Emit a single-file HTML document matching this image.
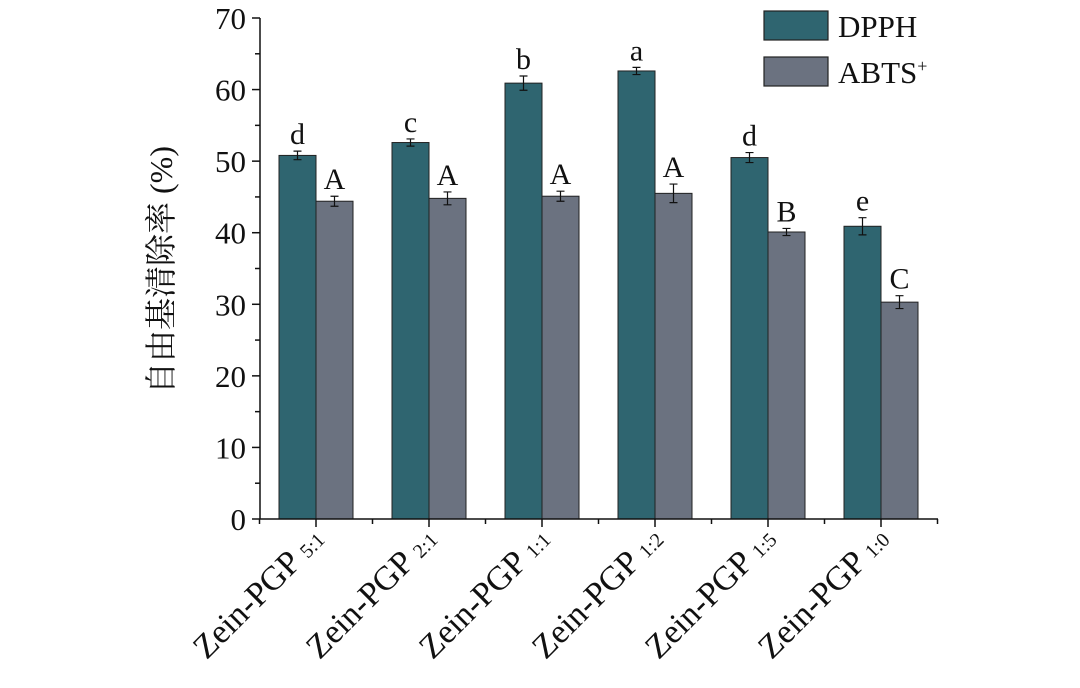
<!DOCTYPE html>
<html><head><meta charset="utf-8"><style>
body{margin:0;background:#fff}
svg text{font-family:"Liberation Serif","Noto Serif CJK SC",serif;fill:#111}
</style></head><body>
<svg id="chart" width="1080" height="683" viewBox="0 0 1080 683" xmlns="http://www.w3.org/2000/svg">
<g id="plot"></g>
</svg>
<script>
const categories=["5:1","2:1","1:1","1:2","1:5","1:0"];
const dpph=[50.8,52.6,60.9,62.6,50.5,40.9];
const dpphErr=[0.6,0.5,1.0,0.5,0.7,1.2];
const dpphLetters=["d","c","b","a","d","e"];
const abts=[44.4,44.8,45.1,45.5,40.1,30.3];
const abtsErr=[0.7,0.9,0.7,1.3,0.5,0.9];
const abtsLetters=["A","A","A","A","B","C"];
const yTicks=[0,10,20,30,40,50,60,70];

const NS="http://www.w3.org/2000/svg";
const g=document.getElementById('plot');
const x0=260,x1=938,y0=519,yTop=18,yMax=70;
const Y=v=>y0-(v/yMax)*(y0-yTop);
const pitch=113, first=316, bw=37;
const X=i=>first+i*pitch;
function el(t,a,p){const e=document.createElementNS(NS,t);for(const k in a)e.setAttribute(k,a[k]);(p||g).appendChild(e);return e;}
const col1="#2f6570",col2="#6b7280";
categories.forEach((c,i)=>{
  const cx=X(i);
  [[dpph,dpphErr,dpphLetters,cx-bw,col1,'dpph'],[abts,abtsErr,abtsLetters,cx,col2,'abts']].forEach(([vals,errs,lets,bx,color,nm])=>{
    const v=vals[i],e=errs[i];
    const r=el('rect',{x:bx,y:Y(v),width:bw,height:y0-Y(v),fill:color,stroke:"#222","stroke-width":1});
    
    
    const mx=bx+bw/2;
    const eb=el('path',{d:`M${mx},${Y(v+e)}V${Y(v-e)}M${mx-4},${Y(v+e)}H${mx+4}M${mx-4},${Y(v-e)}H${mx+4}`,stroke:"#111","stroke-width":1.2,fill:"none"});
    
    
    const t=el('text',{x:mx,y:Y(v+e)-7,"text-anchor":"middle","font-size":30});
    t.textContent=lets[i];
    
    
  });
  const tk=el('line',{x1:cx,x2:cx,y1:y0,y2:y0+8,stroke:"#111","stroke-width":1.5});
  
  
  const m=el('line',{x1:cx+pitch/2,x2:cx+pitch/2,y1:y0,y2:y0+5,stroke:"#111","stroke-width":1.5});
  
  
  const lt=el('text',{transform:`translate(${cx+10},${y0+22}) rotate(-45)`,"text-anchor":"end","font-size":34});
  lt.innerHTML='Zein-PGP <tspan font-size="20">'+c+'</tspan>';
  
  
});
const ml=el('line',{x1:X(0)-pitch/2,x2:X(0)-pitch/2,y1:y0,y2:y0+5,stroke:"#111","stroke-width":1.5});


yTicks.forEach(v=>{
  const t=el('line',{x1:x0-8,x2:x0,y1:Y(v),y2:Y(v),stroke:"#111","stroke-width":1.5});
  
  
  if(v<yMax){const m=el('line',{x1:x0-5,x2:x0,y1:Y(v+5),y2:Y(v+5),stroke:"#111","stroke-width":1.5});
  
  }
  const l=el('text',{x:x0-14,y:Y(v)+11,"text-anchor":"end","font-size":31});
  l.textContent=v;
  
  
});
const ax=el('path',{d:`M${x0},${yTop}V${y0}H${x1}`,stroke:"#111","stroke-width":1.5,fill:"none"});


const yt=el('text',{transform:`translate(172,270) rotate(-90)`,"text-anchor":"middle","font-size":32});
yt.textContent='自由基清除率 (%)';


[["DPPH",col1,11],["ABTS",col2,57]].forEach(([n,c,y])=>{
  const r=el('rect',{x:764,y:y,width:64,height:29,fill:c,stroke:"#222","stroke-width":1.2});
  
  
  const t=el('text',{x:838,y:y+26,"font-size":31});
  t.innerHTML=n==="ABTS"?'ABTS<tspan font-size="18" dy="-11">+</tspan>':n;
  
  
});
</script>
</body></html>
